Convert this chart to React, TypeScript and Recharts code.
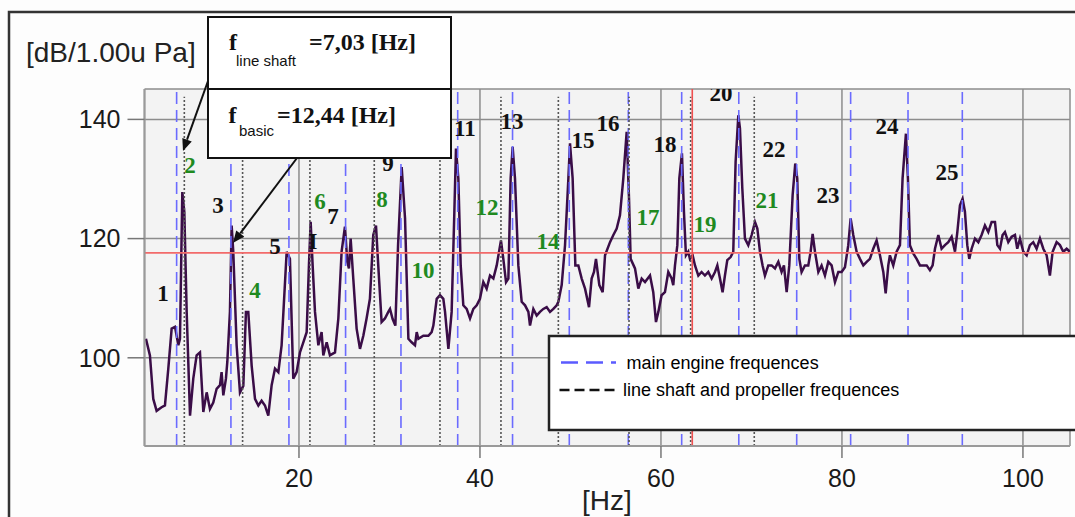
import React from 'react';
import { ComposedChart, Line, Scatter, XAxis, YAxis, CartesianGrid, ReferenceLine } from 'recharts';

// Spectrum trace: frequency [Hz] and level [dB]
const freqHz = [
  3.09, 3.53, 3.90, 4.27, 4.82, 5.19, 5.56, 5.93, 6.30, 6.67, 6.85, 7.11, 7.33, 7.59, 7.96, 8.32, 8.69, 9.06, 9.43, 9.80,
  10.16, 10.53, 10.90, 11.27, 11.45, 11.64, 11.93, 12.08, 12.37, 12.56, 12.74, 13.11, 13.48, 13.85, 14.14, 14.40, 14.77, 15.14, 15.51, 15.87,
  16.24, 16.61, 16.98, 17.35, 17.72, 18.08, 18.64, 19.00, 19.37, 19.74, 20.11, 20.48, 20.85, 21.10, 21.29, 21.51, 21.77, 22.14, 22.50, 22.69,
  23.06, 23.42, 23.98, 24.35, 24.71, 25.08, 25.34, 25.52, 25.71, 26.00, 26.37, 26.74, 27.11, 27.47, 27.84, 28.21, 28.51, 28.76, 29.13, 29.50,
  29.87, 30.06, 30.35, 30.65, 30.95, 31.35, 31.72, 32.09, 32.45, 32.82, 33.01, 33.19, 33.74, 34.30, 34.66, 34.85, 35.22, 35.58, 35.95, 36.14,
  36.51, 36.87, 37.17, 37.35, 37.61, 37.87, 38.16, 38.53, 38.90, 39.27, 39.64, 40.00, 40.37, 40.74, 41.11, 41.48, 41.85, 42.32, 42.58, 42.88,
  43.14, 43.39, 43.61, 43.87, 44.24, 44.61, 44.98, 45.35, 45.53, 45.90, 46.27, 46.63, 47.00, 47.37, 47.74, 48.11, 48.48, 48.66, 49.03, 49.40,
  49.77, 49.95, 50.24, 50.54, 50.87, 51.24, 51.61, 52.05, 52.34, 52.60, 52.82, 53.19, 53.56, 53.82, 54.37, 54.74, 55.11, 55.47, 55.84, 56.21,
  56.47, 56.65, 57.13, 57.50, 57.87, 58.24, 58.79, 59.15, 59.45, 59.71, 60.07, 60.44, 60.81, 61.18, 61.36, 61.55, 61.81, 62.03, 62.32, 62.54,
  62.76, 63.02, 63.20, 63.50, 63.76, 64.13, 64.49, 64.86, 65.23, 65.60, 65.97, 66.23, 66.52, 66.81, 67.07, 67.33, 67.70, 67.99, 68.25, 68.55,
  68.73, 68.99, 69.28, 69.65, 70.02, 70.39, 70.65, 70.94, 71.23, 71.49, 71.86, 72.23, 72.60, 72.97, 73.33, 73.59, 73.89, 74.18, 74.55, 74.84,
  75.06, 75.29, 75.54, 75.91, 76.28, 76.54, 76.76, 77.02, 77.39, 77.75, 78.12, 78.49, 78.86, 79.23, 79.60, 79.96, 80.33, 80.70, 80.96, 81.25,
  81.62, 81.99, 82.36, 82.73, 83.09, 83.46, 83.83, 84.20, 84.57, 84.83, 85.12, 85.30, 85.67, 86.04, 86.41, 86.70, 87.07, 87.29, 87.51, 87.88,
  88.25, 88.62, 88.99, 89.36, 89.72, 90.02, 90.28, 90.65, 91.01, 91.38, 91.75, 92.12, 92.49, 92.75, 93.04, 93.33, 93.59, 93.85, 94.07, 94.33,
  94.70, 95.07, 95.43, 95.80, 96.17, 96.54, 96.91, 97.17, 97.46, 97.75, 98.01, 98.38, 98.75, 99.12, 99.37, 99.67, 100.04, 100.41, 100.77, 101.14,
  101.51, 101.88, 102.25, 102.62, 102.98, 103.28, 103.72, 104.09, 104.46, 104.83, 105.19,
];
const levelDb = [
  103.2, 100.4, 93.1, 91.1, 91.7, 92.0, 98.2, 104.9, 105.2, 102.1, 103.2, 127.8, 124.5, 107.7, 90.3, 96.5, 100.4, 100.9, 90.9, 94.2,
  91.4, 92.5, 94.8, 95.4, 97.6, 93.7, 96.5, 99.3, 107.7, 122.2, 117.8, 102.1, 94.2, 95.3, 107.7, 107.7, 98.7, 93.1, 92.0, 92.8,
  92.0, 90.3, 95.4, 98.2, 97.6, 102.1, 117.8, 116.6, 96.5, 97.6, 100.9, 102.6, 104.3, 115.5, 122.8, 115.5, 107.7, 102.1, 104.3, 100.4,
  102.6, 100.4, 100.9, 106.6, 117.8, 122.0, 116.1, 115.0, 120.0, 113.3, 104.9, 101.5, 103.7, 106.6, 109.9, 120.6, 122.2, 115.5, 106.0, 106.6,
  107.7, 108.2, 106.5, 105.4, 118.9, 132.0, 123.4, 103.2, 102.6, 102.1, 104.3, 103.2, 103.7, 103.7, 104.3, 105.4, 109.9, 110.5, 109.9, 107.7,
  101.5, 107.7, 124.5, 135.1, 130.1, 115.5, 108.8, 108.2, 106.6, 108.2, 108.8, 109.9, 112.7, 111.6, 113.8, 113.3, 115.5, 119.7, 116.6, 112.7,
  113.3, 130.1, 135.4, 130.1, 115.5, 109.4, 108.8, 107.7, 105.4, 108.2, 107.1, 107.7, 108.2, 108.5, 107.7, 108.2, 108.8, 109.4, 112.2, 118.9,
  130.1, 136.0, 130.1, 115.5, 115.5, 113.3, 111.6, 108.5, 113.3, 114.4, 116.6, 112.2, 111.0, 117.2, 119.4, 120.6, 121.7, 123.9, 130.1, 137.9,
  126.7, 116.6, 115.0, 111.6, 113.3, 112.7, 113.8, 111.0, 106.0, 107.7, 110.5, 111.0, 114.4, 113.3, 112.2, 115.5, 118.9, 130.1, 134.3, 124.5,
  117.2, 117.8, 116.6, 117.2, 115.5, 113.8, 114.4, 113.8, 114.4, 113.3, 114.4, 115.5, 113.3, 111.0, 113.8, 116.4, 116.9, 117.8, 132.9, 140.7,
  138.5, 128.4, 120.0, 118.9, 120.6, 122.8, 121.7, 117.8, 115.5, 113.8, 115.5, 115.5, 115.0, 116.1, 114.4, 115.5, 111.0, 115.5, 127.3, 132.6,
  130.1, 116.6, 114.4, 115.5, 115.5, 117.8, 120.8, 117.8, 114.4, 115.5, 113.8, 116.1, 115.5, 112.7, 114.4, 114.4, 115.2, 118.9, 123.4, 120.6,
  117.8, 116.6, 115.5, 116.1, 116.6, 118.3, 119.7, 117.2, 114.4, 110.8, 115.5, 117.2, 115.5, 117.8, 118.9, 130.1, 137.6, 130.1, 118.9, 117.5,
  116.6, 115.5, 115.5, 115.5, 114.7, 115.5, 118.3, 120.6, 118.3, 118.9, 119.4, 120.3, 117.8, 121.1, 125.6, 126.7, 124.5, 118.9, 116.6, 118.3,
  120.0, 119.4, 120.6, 122.2, 121.1, 122.8, 122.8, 118.9, 118.3, 120.6, 121.1, 119.4, 120.3, 120.6, 118.3, 120.0, 117.8, 117.2, 118.9, 119.4,
  118.3, 120.0, 118.3, 117.2, 113.8, 117.8, 119.4, 118.9, 117.8, 118.3, 117.8,
];

// Marker frequencies
const mainEngineHz = [6.48, 12.48, 18.89, 25.15, 31.27, 37.54, 43.6, 49.87, 56.39, 62.29, 68.6, 75.0, 80.96, 87.3, 93.3];
const shaftHz = [7.33, 13.77, 21.21, 28.32, 35.58, 42.32, 48.66, 56.47, 63.28, 70.31];
const redLineHz = 63.46;
const redLineDb = 117.6;

// Peak number labels
const labelText = ['1', '2', '3', '4', '5', 'I', '6', '7', '8', '9', '10', '11', '12', '13', '14', '15', '16', '17', '18', '19', '20', '21', '22', '23', '24', '25'];
const labelHz = [4.97, 7.96, 11.05, 15.14, 17.35, 21.55, 22.32, 23.76, 29.17, 29.83, 33.7, 38.34, 40.77, 43.54, 47.51, 51.38, 54.14, 58.56, 60.44, 64.86, 66.63, 71.71, 72.49, 78.45, 84.97, 91.6];
const labelDb = [110.8, 132.3, 125.6, 111.3, 118.7, 119.5, 126.2, 123.7, 126.6, 132.6, 114.6, 138.5, 125.2, 139.7, 119.5, 136.5, 139.3, 123.5, 135.8, 122.4, 144.4, 126.4, 135.0, 127.2, 138.8, 131.1];
const labelGreen = [false, true, false, true, false, false, true, false, true, false, true, false, true, false, true, false, false, true, false, true, false, true, false, false, false, false];

const xTicks = [20, 40, 60, 80, 100];
const yTicks = [100, 120, 140];
const xDomain = [2.93, 105.2];
const yDomain = [85.2, 145.1];

const trace = freqHz.map((hz, i) => ({ hz, db: levelDb[i] }));
const labels = labelText.map((t, i) => ({ hz: labelHz[i], db: labelDb[i], t, green: labelGreen[i] }));

const SANS = "Arial, 'Liberation Sans', sans-serif";
const SERIF = "'Times New Roman', 'Liberation Serif', serif";

const renderLabel = (props: any) => {
  const { cx, cy, payload } = props;
  if (cx == null || cy == null) return <g />;
  return (
    <text
      x={cx}
      y={cy}
      textAnchor="middle"
      dominantBaseline="central"
      fontFamily={SERIF}
      fontWeight="bold"
      fontSize={23}
      fill={payload.green ? '#1f8a1f' : '#111'}
    >
      {payload.t}
    </text>
  );
};

const Arrow = ({ x1, y1, x2, y2 }: { x1: number; y1: number; x2: number; y2: number }) => {
  const a = Math.atan2(y2 - y1, x2 - x1);
  const L = 12;
  const W = 5;
  const bx = x2 - L * Math.cos(a);
  const by = y2 - L * Math.sin(a);
  const p1 = `${bx + W * Math.sin(a)},${by - W * Math.cos(a)}`;
  const p2 = `${bx - W * Math.sin(a)},${by + W * Math.cos(a)}`;
  return (
    <g>
      <line x1={x1} y1={y1} x2={bx} y2={by} stroke="#111" strokeWidth={2} />
      <polygon points={`${x2},${y2} ${p1} ${p2}`} fill="#111" />
    </g>
  );
};

export default function App() {
  return (
    <div style={{ position: 'absolute', left: 0, top: 0, width: 1075, height: 517, background: '#fdfdfd', overflow: 'hidden' }}>
      <div style={{ position: 'absolute', left: 0, top: 0 }}>
        <ComposedChart width={1075} height={517} margin={{ top: 89, right: 5, bottom: 41, left: 84.5 }}>
          <CartesianGrid fill="#f3f3f3" fillOpacity={1} stroke="#8c8c8c" strokeWidth={1.5} />
          <XAxis
            type="number"
            dataKey="hz"
            domain={xDomain}
            ticks={xTicks}
            allowDataOverflow
            height={30}
            tickSize={12}
            tickMargin={11}
            axisLine={{ stroke: '#9a9a9a', strokeWidth: 2 }}
            tickLine={{ stroke: '#777', strokeWidth: 1.5 }}
            tick={{ fontSize: 25, fill: '#1a1a1a', fontFamily: SANS }}
          />
          <YAxis
            type="number"
            dataKey="db"
            domain={yDomain}
            ticks={yTicks}
            allowDataOverflow
            width={60}
            tickSize={17}
            tickMargin={7}
            axisLine={{ stroke: '#9a9a9a', strokeWidth: 2 }}
            tickLine={{ stroke: '#777', strokeWidth: 1.5 }}
            tick={{ fontSize: 25, fill: '#1a1a1a', fontFamily: SANS }}
          />
          <Line
            data={trace}
            dataKey="db"
            type="linear"
            stroke="#3a0d47"
            strokeWidth={2.5}
            dot={false}
            activeDot={false}
            isAnimationActive={false}
          />
          {mainEngineHz.map((v) => (
            <ReferenceLine key={'m' + v} x={v} stroke="#6b6bff" strokeWidth={1.6} strokeDasharray="12 6" />
          ))}
          {shaftHz.map((v) => (
            <ReferenceLine
              key={'s' + v}
              segment={[{ x: v, y: yDomain[0] }, { x: v, y: 143.8 }]}
              stroke="#555"
              strokeWidth={1.6}
              strokeDasharray="2 2"
            />
          ))}
          <ReferenceLine y={redLineDb} stroke="#f26a6a" strokeWidth={1.6} />
          <ReferenceLine x={redLineHz} stroke="#f05050" strokeWidth={1.6} />
          <Scatter data={labels} dataKey="db" shape={renderLabel} isAnimationActive={false} />
        </ComposedChart>
      </div>
      <svg width={1075} height={517} style={{ position: 'absolute', left: 0, top: 0, pointerEvents: 'none' }}>
        {/* outer frame */}
        <path d="M9,517 L9,12 L1075,12" fill="none" stroke="#333" strokeWidth={2.5} />
        {/* axis titles */}
        <text x={26} y={62} fontFamily={SANS} fontSize={28} fill="#222">[dB/1.00u Pa]</text>
        <text x={582} y={510} fontFamily={SANS} fontSize={28} fill="#222">[Hz]</text>
        {/* legend */}
        <rect x={549} y={336} width={540} height={94} fill="#fff" stroke="#222" strokeWidth={2.5} />
        <line x1={561} y1={362.5} x2={616} y2={362.5} stroke="#5b5bff" strokeWidth={2.5} strokeDasharray="17 8" />
        <text x={626.5} y={369} fontFamily={SANS} fontSize={18} fill="#000">main engine frequences</text>
        <line x1={559.5} y1={390} x2={615} y2={390} stroke="#111" strokeWidth={2.5} strokeDasharray="10 5" />
        <text x={623} y={396} fontFamily={SANS} fontSize={18} fill="#000">line shaft and propeller frequences</text>
        {/* annotation boxes */}
        <rect x={208} y={17} width={243} height={72} fill="#fff" stroke="#111" strokeWidth={2} />
        <rect x={208} y={89} width={243} height={69} fill="#fff" stroke="#111" strokeWidth={2} />
        <text x={229} y={50} fontFamily={SERIF} fontWeight="bold" fontSize={24} fill="#111">f</text>
        <text x={236} y={66} fontFamily={SANS} fontSize={15} fill="#111">line shaft</text>
        <text x={309} y={50} fontFamily={SERIF} fontWeight="bold" fontSize={24} fill="#111">=7,03 [Hz]</text>
        <text x={228.5} y={123} fontFamily={SERIF} fontWeight="bold" fontSize={24} fill="#111">f</text>
        <text x={239} y={136} fontFamily={SANS} fontSize={15} fill="#111">basic</text>
        <text x={277} y={123} fontFamily={SERIF} fontWeight="bold" fontSize={24} fill="#111">=12,44 [Hz]</text>
        <Arrow x1={208} y1={81} x2={183} y2={151} />
        <Arrow x1={297} y1={158} x2={233} y2={243} />
      </svg>
    </div>
  );
}
